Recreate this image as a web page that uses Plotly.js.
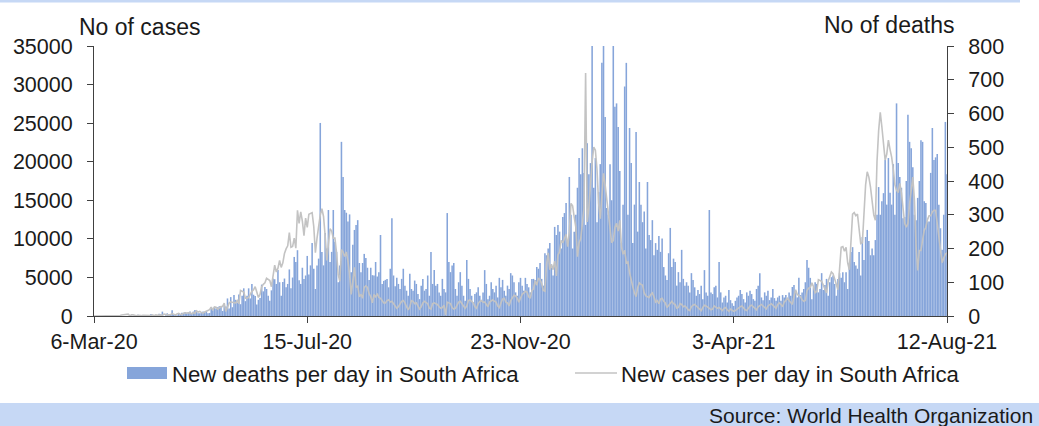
<!DOCTYPE html>
<html>
<head>
<meta charset="utf-8">
<script src="https://cdn.plot.ly/plotly-3.0.1.min.js"></script>
<style>
html,body{margin:0;padding:0;background:#fff;}
#chart{width:1039px;height:426px;}
</style>
</head>
<body>
<div id="chart"></div>
<script>
// ---- DATA (one value per day, 6-Mar-2020 .. 12-Aug-2021) ----
const startDate = '2020-03-06';

const deathsPerDay = [
  // Mar 2020
  0,0,0,0,0,0,0,0,0,0,0,0,0,0,0,0,0,0,0,0,0,0,1,1,0,3,
  // Apr 2020
  2,4,0,2,2,1,1,3,1,6,1,2,1,2,7,5,13,0,2,8,4,4,17,4,4,2,6,5,10,9,
  // May 2020
  12,8,10,13,7,13,18,13,8,8,10,13,11,15,8,9,26,17,27,22,26,29,30,15,34,28,52,22,56,26,62,
  // Jun 2020
  48,40,64,35,60,82,44,60,82,52,95,63,59,34,48,53,93,73,86,80,60,45,76,111,109,95,136,100,60,101,
  // Jul 2020
  111,85,95,138,82,114,175,160,195,106,95,143,110,120,178,123,150,216,140,80,150,170,572,190,150,246,200,314,160,190,314,
  // Aug 2020
  220,190,100,150,516,412,314,306,280,301,130,211,255,270,284,157,130,157,184,172,143,107,143,121,120,160,117,130,240,95,104,
  // Sep 2020
  107,110,85,140,290,120,88,113,95,80,110,140,90,75,60,125,80,75,105,95,65,50,90,110,75,80,120,60,190,95,
  // Oct 2020
  136,90,95,70,60,110,80,70,305,160,130,150,157,80,60,100,130,90,60,45,166,110,80,60,40,65,70,85,60,45,70,
  // Nov 2020
  136,95,50,60,100,80,70,90,55,113,85,107,75,60,90,80,127,120,100,70,60,100,113,90,75,113,95,85,70,110,
  // Dec 2020
  110,107,145,140,157,110,90,186,180,200,216,150,120,264,240,270,250,200,293,305,335,220,412,300,200,250,300,380,468,420,497,
  // Jan 2021
  424,270,512,420,453,844,380,468,278,367,450,750,839,590,320,300,450,343,841,620,630,560,430,216,330,680,750,300,557,453,216,
  // Feb 2021
  330,545,250,397,330,278,310,200,397,240,225,284,180,216,196,237,190,230,145,120,107,186,261,145,170,160,90,130,
  // Mar 2021
  100,196,110,90,100,90,70,127,107,85,60,77,65,90,50,136,70,60,314,70,65,85,90,55,160,70,40,55,60,40,77,
  // Apr 2021
  47,38,30,45,55,60,77,65,50,40,70,60,75,65,50,45,80,90,127,55,47,70,60,75,47,55,80,53,45,55,
  // May 2021
  60,45,62,55,62,50,70,60,86,92,70,55,113,62,70,80,100,166,143,113,50,85,100,95,70,80,127,77,92,110,60,
  // Jun 2021
  100,115,120,95,60,110,127,113,130,100,130,80,157,190,204,160,150,140,190,120,234,166,234,255,222,180,200,180,225,300,
  // Jul 2021
  382,300,340,364,462,330,468,365,330,450,300,630,453,412,380,290,293,400,596,516,497,441,300,284,350,400,521,516,340,335,280,
  // Aug 2021
  280,424,557,462,470,480,330,260,196,300,575,420
];

const casesPerDay = [
  // Mar 2020
  1,1,1,4,0,6,3,8,14,13,11,23,31,34,52,38,72,128,152,155,218,243,17,150,148,82,
  // Apr 2020
  27,82,43,44,96,70,62,47,90,51,148,28,145,85,143,127,89,251,178,148,150,165,318,267,143,267,354,238,170,354,
  // May 2020
  424,385,447,437,279,424,353,663,498,595,434,369,511,613,665,818,1160,767,1175,1134,887,1042,1218,1240,1673,579,1094,1673,1837,1727,1716,
  // Jun 2020
  1700,2000,1600,3300,3200,3100,2300,2300,2400,2900,3200,3400,3800,3100,2400,2800,3800,4100,4300,4900,4800,4600,3800,5000,6600,5700,6200,7200,6300,6900,
  // Jul 2020
  8100,8700,9100,10800,8900,9000,10100,8800,13700,12000,13500,12300,10400,12700,11500,13200,13300,13400,11600,8200,10100,11700,13100,13900,12900,10400,7200,9300,11300,11000,10100,
  // Aug 2020
  10100,8200,5400,4500,8600,8300,7700,8300,7100,5400,2800,5000,6300,3700,3900,2500,2800,2300,3700,3900,3700,2900,2500,1700,2800,2400,2900,2400,2300,2000,1700,
  // Sep 2020
  1700,2000,2100,1800,1900,1600,1200,1000,1200,1500,1900,2000,1700,1200,800,1200,2000,1900,1600,1700,1300,900,1200,1700,1900,1800,1600,1000,900,1600,
  // Oct 2020
  1700,1600,1500,1200,1000,1100,1400,100,1800,1700,1600,1100,900,1000,1500,1800,1900,1600,1400,1000,1300,2000,2100,1900,1700,1200,1000,1600,1900,2000,1800,
  // Nov 2020
  1800,1400,1200,1800,2000,2100,1900,1800,1300,1100,1700,2200,2300,1800,1700,1300,2000,2400,2700,2600,2300,1800,2400,2800,3000,3200,3100,2500,2300,3300,
  // Dec 2020
  3500,4600,4000,4900,4700,4200,3300,3200,6700,8200,6000,6700,6000,7100,5200,7900,8300,9800,9500,10000,10600,9000,10900,14600,14300,12800,11500,7700,9500,10000,12200,
  // Jan 2021
  14000,31500,12200,14000,17600,20000,21900,21500,19000,14600,12600,16000,18500,17000,15000,12800,11000,9500,9800,11500,12000,11000,12400,9000,8000,8500,6900,7000,5600,4500,3800,
  // Feb 2021
  3000,2500,3700,4300,4100,4000,3000,2600,2500,2400,2800,3000,2500,1800,2000,1600,2200,2300,1900,1700,1100,1400,1700,1900,1600,1500,1000,1100,
  // Mar 2021
  1600,1500,1200,1300,1100,800,700,1200,1400,1500,1300,1100,800,700,1100,1400,1300,1200,1000,800,900,1300,1200,1000,1100,900,700,1000,1100,800,600,
  // Apr 2021
  900,800,600,700,900,1100,1200,1300,1000,800,700,1100,1300,1400,1200,1000,800,1200,1400,1500,1300,1100,900,1300,1500,1600,1400,1200,1000,1500,
  // May 2021
  1700,1500,1200,1800,2100,2300,2000,1700,1500,2500,3400,2800,2600,2500,2100,1900,2000,3300,3600,3700,4300,3800,3000,3200,4700,4600,4500,4000,3400,3000,4500,
  // Jun 2021
  5000,5700,5500,4800,4000,3400,6100,8900,9000,8400,8900,6900,6000,9000,13200,13400,13000,13200,11000,9400,9500,13200,17000,18700,18000,16700,15000,13100,12400,20000,
  // Jul 2021
  24000,26400,24500,22000,20200,21000,22800,21600,20600,19000,17000,16300,16000,17200,16000,14000,12000,11500,12000,14500,16500,18000,15000,9000,5900,8500,8500,10000,11100,11500,12500,
  // Aug 2021
  13000,13000,13500,13700,13700,12000,10000,8900,6900,7500,8000,8200
];

const xTickDates  = ['2020-03-06','2020-07-15','2020-11-23','2021-04-03','2021-08-12'];
const xTickLabels = ['6-Mar-20','15-Jul-20','23-Nov-20','3-Apr-21','12-Aug-21'];
const seriesNames = ['New deaths per day in South Africa','New cases per day in South Africa'];
const leftTitle = 'No of cases';
const rightTitle = 'No of deaths';
const sourceText = 'Source: World Health Organization';

// ---- build date list ----
function isoDay(base, n){
  const d = new Date(base + 'T00:00:00Z');
  d.setUTCDate(d.getUTCDate() + n);
  return d.toISOString().slice(0,10);
}
const dates = deathsPerDay.map((_, i) => isoDay(startDate, i));

const FONT = 'Liberation Sans, Arial, Helvetica, sans-serif';
const TXT = '#1a1a1a';
const AX = '#404040';
const BAR = '#86a5da';
const LINE = '#c3c3c3';
const BAND = '#c6d8f5';

// pixel -> paper helpers (plot area 94..947 x 46..316)
const PL = 94, PR = 947, PT = 46, PB = 316;
const px = x => (x - PL) / (PR - PL);
const py = y => (PB - y) / (PB - PT);

const traces = [
  {
    type: 'bar', x: dates, y: deathsPerDay, name: seriesNames[0],
    yaxis: 'y', marker: {color: BAR, line: {width: 0}},
    hoverinfo: 'x+y'
  },
  {
    type: 'scatter', mode: 'lines', x: dates, y: casesPerDay, name: seriesNames[1],
    yaxis: 'y2', line: {color: LINE, width: 1.6}, hoverinfo: 'x+y'
  }
];

const TICKF = {family: FONT, size: 21.5, color: TXT};

const layout = {
  width: 1039, height: 426,
  margin: {l: PL, r: 1039 - PR, t: PT, b: 426 - PB, pad: 0},
  paper_bgcolor: '#ffffff', plot_bgcolor: '#ffffff',
  showlegend: false,
  bargap: 0.04,
  font: {family: FONT, size: 21, color: TXT},
  xaxis: {
    type: 'date', range: [startDate, '2021-08-12'],
    tickmode: 'array', tickvals: xTickDates, ticktext: xTickLabels,
    ticks: 'outside', ticklen: 6, tickcolor: AX, tickwidth: 1,
    showline: true, linecolor: AX, linewidth: 1,
    showgrid: false, zeroline: false,
    tickfont: TICKF
  },
  yaxis: {
    side: 'right', range: [0, 800], tickmode: 'linear', tick0: 0, dtick: 100,
    tickformat: 'd',
    ticks: 'outside', ticklen: 6, tickcolor: AX, tickwidth: 1,
    showline: true, linecolor: AX, linewidth: 1,
    showgrid: false, zeroline: false, ticklabelstandoff: 10,
    tickfont: TICKF
  },
  yaxis2: {
    overlaying: 'y', side: 'left', range: [0, 35000], tickmode: 'linear', tick0: 0, dtick: 5000,
    tickformat: 'd',
    ticks: 'outside', ticklen: 6, tickcolor: AX, tickwidth: 1,
    showline: true, linecolor: AX, linewidth: 1,
    showgrid: false, zeroline: false, ticklabelstandoff: 10,
    tickfont: TICKF
  },
  shapes: [
    // top thin band
    {type: 'rect', xref: 'paper', yref: 'paper', x0: px(0), x1: px(1020), y0: py(0), y1: py(2.5),
     fillcolor: BAND, line: {width: 0}, layer: 'below'},
    // bottom source band
    {type: 'rect', xref: 'paper', yref: 'paper', x0: px(0), x1: px(1039), y0: py(403), y1: py(426),
     fillcolor: BAND, line: {width: 0}, layer: 'below'},
    // legend swatch: bars
    {type: 'rect', xref: 'paper', yref: 'paper', x0: px(127), x1: px(167), y0: py(379), y1: py(367),
     fillcolor: BAR, line: {width: 0}},
    // legend swatch: line
    {type: 'line', xref: 'paper', yref: 'paper', x0: px(575), x1: px(617), y0: py(373), y1: py(373),
     line: {color: LINE, width: 1.6}}
  ],
  annotations: [
    {xref: 'paper', yref: 'paper', x: px(77), y: py(27), xanchor: 'left', yanchor: 'middle',
     text: leftTitle, showarrow: false, font: {family: FONT, size: 23, color: TXT}},
    {xref: 'paper', yref: 'paper', x: px(956), y: py(25), xanchor: 'right', yanchor: 'middle',
     text: rightTitle, showarrow: false, font: {family: FONT, size: 23, color: TXT}},
    {xref: 'paper', yref: 'paper', x: px(170), y: py(374), xanchor: 'left', yanchor: 'middle',
     text: seriesNames[0], showarrow: false, font: {family: FONT, size: 22.2, color: TXT}},
    {xref: 'paper', yref: 'paper', x: px(619), y: py(374), xanchor: 'left', yanchor: 'middle',
     text: seriesNames[1], showarrow: false, font: {family: FONT, size: 22.2, color: TXT}},
    {xref: 'paper', yref: 'paper', x: px(1035), y: py(415), xanchor: 'right', yanchor: 'middle',
     text: sourceText, showarrow: false, font: {family: FONT, size: 21, color: TXT}}
  ]
};

Plotly.newPlot('chart', traces, layout, {displayModeBar: false, staticPlot: true});
</script>
</body>
</html>
